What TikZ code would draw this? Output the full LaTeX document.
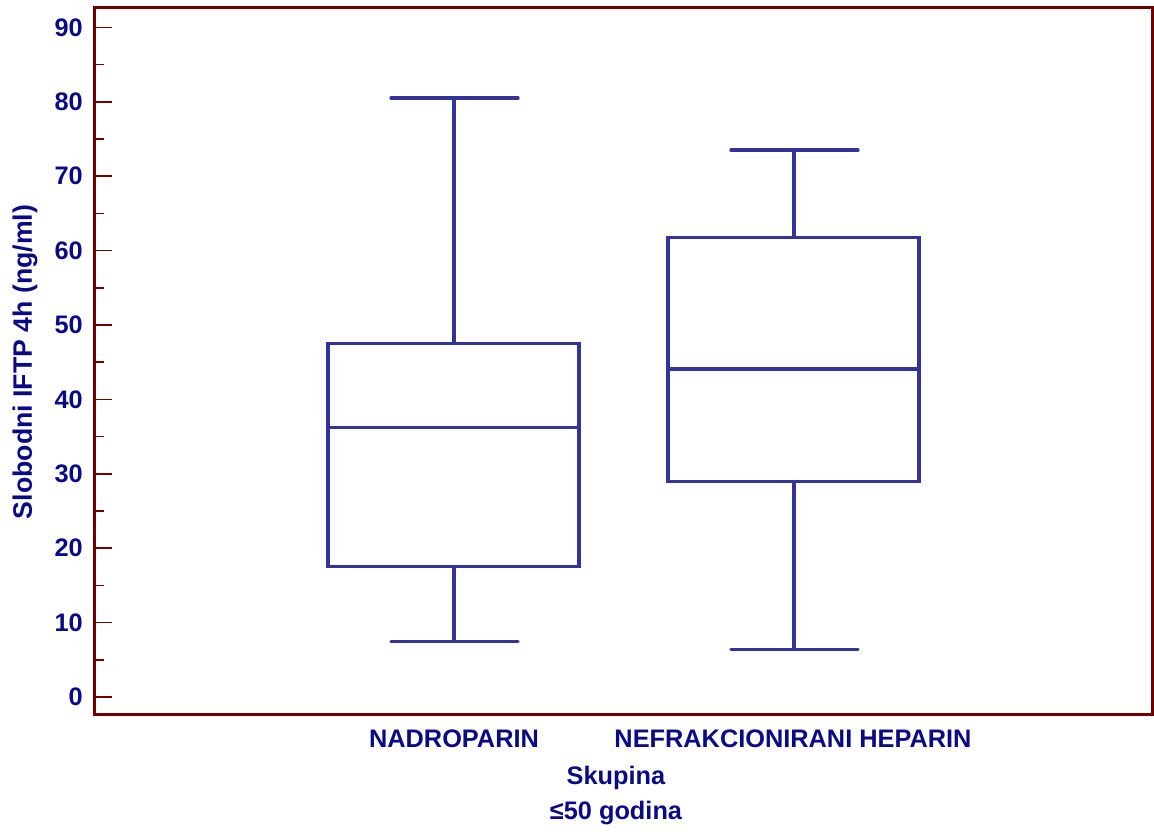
\documentclass[tikz,border=0pt]{standalone}
\usepackage{fontspec}
\setmainfont{Liberation Sans}
\usepackage{tikz}
\definecolor{frameRed}{RGB}{112,0,0}
\definecolor{boxBlue}{RGB}{51,51,153}
\definecolor{textNavy}{RGB}{10,10,130}
\tikzset{
  lab/.style={font=\fontsize{19}{21}\selectfont\bfseries,text=textNavy,inner sep=0pt},
  whisk/.style={boxBlue,line width=2.5pt},
  cap end/.style={boxBlue,line width=2.5pt,line cap=round}
}

\begin{document}
\begin{tikzpicture}[x=0.75pt,y=0.75pt]
\useasboundingbox (0,0) rectangle (1154,834);
% frame
\draw[frameRed,line width=2.25pt] (94,826) rectangle (1152,119);
% axis ticks and labels (data scope: 1 unit = 7.44px)
\begin{scope}[y=5.58pt,shift={(0pt,102.75pt)}]
\foreach \v in {0,10,...,90}{
  \draw[frameRed,line width=1.1pt] (95,\v) -- (112,\v);
  \node[lab,anchor=east] (tick\v) at (83,\v) {\v};
}
\foreach \v in {5,15,...,85}{
  \draw[frameRed,line width=1.1pt] (95,\v) -- (104,\v);
}
% nadroparin
\draw[whisk] (328,17.5) rectangle (579,47.5);
\draw[whisk] (328,36.2) -- (579,36.2);
\draw[whisk] (454,47.5) -- (454,80.5);
\draw[whisk] (454,17.5) -- (454,7.5);
\draw[cap end] (391,80.5) -- (518,80.5);
\draw[cap end] (391,7.5) -- (518,7.5);
% nefrakcionirani heparin
\draw[whisk] (668,29) rectangle (919,61.8);
\draw[whisk] (668,44.1) -- (919,44.1);
\draw[whisk] (794,61.8) -- (794,73.5);
\draw[whisk] (794,29) -- (794,6.4);
\draw[cap end] (731,73.5) -- (858,73.5);
\draw[cap end] (731,6.4) -- (858,6.4);
\end{scope}
% labels
\node[lab,rotate=90,font=\fontsize{20}{22}\selectfont\bfseries] (ytitle) at (25,472) {Slobodni IFTP 4h (ng/ml)};
\node[lab] (grp1) at (454,95) {NADROPARIN};
\node[lab] (grp2) at (793,95) {NEFRAKCIONIRANI HEPARIN};
\node[lab] (xtitle) at (616,56) {Skupina};
\node[lab] (xsub) at (616,21) {≤50 godina};
\end{tikzpicture}
\end{document}
